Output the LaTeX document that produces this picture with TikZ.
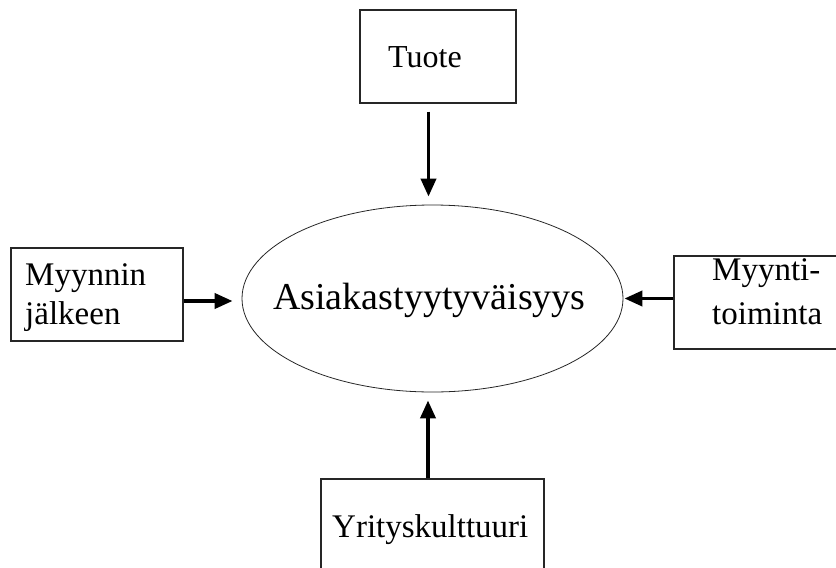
\documentclass[tikz,border=0pt]{standalone}
\usepackage{fontspec}
\setmainfont{Liberation Serif}
\usetikzlibrary{arrows.meta,shapes.geometric}
\begin{document}
\begin{tikzpicture}[x=1pt,y=-1pt,
  box/.style={draw=black!85, line width=1.3pt, rectangle, inner sep=0pt},
  lbl/.style={inner sep=0pt, anchor=base west, font=\fontsize{33}{40}\selectfont},
  arr/.style={line width=3.8pt, -{Triangle[length=18pt,width=15pt]}}]
\useasboundingbox (0,0) rectangle (836,568);
\clip (0,0) rectangle (836,568);

% central ellipse
\node[draw=black!85, line width=0.8pt, ellipse, inner sep=0pt,
      minimum width=381pt, minimum height=187pt] (sat) at (432.5,298.5) {};
\node[inner sep=0pt, anchor=base west, font=\fontsize{38}{44}\selectfont]
  (sattxt) at (273,309) {Asiakastyytyväisyys};

% surrounding boxes
\node[box, minimum width=156pt, minimum height=93pt] (tuote) at (438,56.5) {};
\node[lbl, font=\fontsize{32}{38}\selectfont] (tuotetxt) at (388,67) {Tuote};

\node[box, minimum width=172pt, minimum height=93pt] (lbox) at (97,294.5) {};
\node[lbl] (l1) at (25,285) {Myynnin};
\node[lbl] (l2) at (25,324) {jälkeen};

\node[box, minimum width=186pt, minimum height=93pt] (rbox) at (767,302.5) {};
\node[lbl] (r1) at (712,280) {Myynti-};
\node[lbl] (r2) at (712,324) {toiminta};

\node[box, minimum width=223pt, minimum height=121pt] (ybox) at (432.5,539.5) {};
\node[lbl] (ytxt) at (332,537) {Yrityskulttuuri};

% arrows into the ellipse
\coordinate (tn) at ([xshift=-4pt]sat.north);
\coordinate (bs) at ([xshift=-4.5pt]sat.south);
\coordinate (lw) at ([yshift=-2.5pt]sat.west);
\coordinate (re) at (sat.east);

\draw[arr, shorten <=8pt, shorten >=8pt] (tn |- tuote.south) -- (tn);
\draw[arr, shorten >=8pt] (bs |- ybox.north) -- (bs);
\draw[arr, shorten >=9pt] (lbox.east |- lw) -- (lw);
\draw[arr, shorten >=1pt] (rbox.west |- re) -- (re);
\end{tikzpicture}
\end{document}
